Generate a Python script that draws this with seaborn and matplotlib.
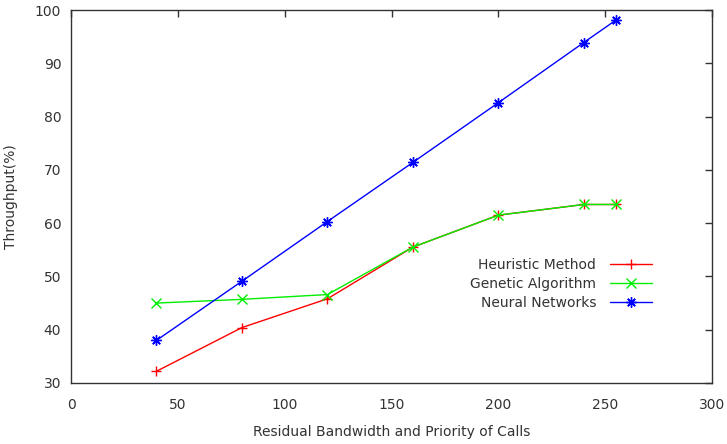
import matplotlib
matplotlib.use("Agg")
import matplotlib.pyplot as plt
import seaborn as sns
import pandas as pd

x_vals = [40, 80, 120, 160, 200, 240, 255]
heuristic = [32.2, 40.4, 45.8, 55.5, 61.5, 63.5, 63.5]
genetic = [45.0, 45.7, 46.6, 55.5, 61.5, 63.5, 63.5]
neural = [38.0, 49.1, 60.3, 71.4, 82.6, 93.9, 98.1]
series_names = ["Heuristic Method", "Genetic Algorithm", "Neural Networks"]
x_ticks = [0, 50, 100, 150, 200, 250, 300]
y_ticks = [30, 40, 50, 60, 70, 80, 90, 100]

sns.set_style("white")
plt.rcParams['font.family'] = ['DejaVu Sans']

fig = plt.figure(figsize=(7.27, 4.44), dpi=100)
ax = fig.add_axes([71/727, 61/444, (712-71)/727, (383-10)/444])

colors = ["#ff0000", "#00ee00", "#0000ff"]
marks = ["+", "x", (8, 2, 0)]

for name, vals, c, m in zip(series_names, [heuristic, genetic, neural], colors, marks):
    df = pd.DataFrame({"x": x_vals, "y": vals})
    sns.lineplot(data=df, x="x", y="y", color=c, marker=m, markersize=7.5,
                 markeredgecolor=c, markerfacecolor=c, markeredgewidth=1.0,
                 linewidth=1.0, label=name, ax=ax)

ax.set_xlim(0, 300)
ax.set_ylim(30, 100)
ax.set_xticks(x_ticks)
ax.set_yticks(y_ticks)
ax.tick_params(direction="in", top=True, right=True, length=5, width=1,
               labelsize=10, colors="#333333", pad=7)
ax.tick_params(axis="x", pad=11)
for s in ax.spines.values():
    s.set_color("#333333")
    s.set_linewidth(1)
ax.set_xlabel("Residual Bandwidth and Priority of Calls", fontsize=10, color="#333333", labelpad=9)
ax.set_ylabel("Throughput(%)", fontsize=10, color="#333333", labelpad=12)

handles, labels = ax.get_legend_handles_labels()
leg = ax.legend(handles, labels, markerfirst=False, frameon=False, fontsize=10,
                loc="center", bbox_to_anchor=(561/727, (444-284)/444), bbox_transform=fig.transFigure,
                handlelength=3.0, labelspacing=0.38, handletextpad=1.0)
for t in leg.get_texts():
    t.set_color("#333333")

fig.savefig("out.png", dpi=100)
